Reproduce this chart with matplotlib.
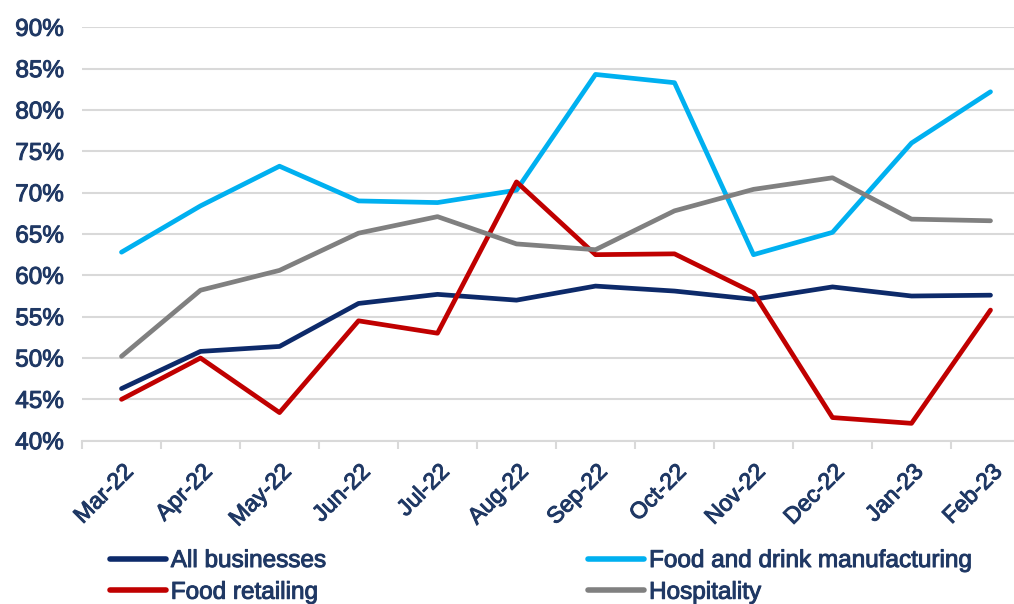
import matplotlib
matplotlib.use("Agg")
import matplotlib.pyplot as plt
import matplotlib.patheffects as pe
from matplotlib.ticker import FuncFormatter, MultipleLocator

plt.rcParams['font.family'] = ['Liberation Sans', 'DejaVu Sans']

months = ["Mar-22", "Apr-22", "May-22", "Jun-22", "Jul-22", "Aug-22",
          "Sep-22", "Oct-22", "Nov-22", "Dec-22", "Jan-23", "Feb-23"]
all_businesses = [46.3, 50.8, 51.4, 56.6, 57.7, 57.0, 58.7, 58.1, 57.1, 58.6, 57.5, 57.6]
food_drink_mfg = [62.8, 68.4, 73.2, 69.0, 68.8, 70.3, 84.3, 83.3, 62.5, 65.2, 76.0, 82.2]
food_retailing = [45.0, 50.0, 43.4, 54.5, 53.0, 71.3, 62.5, 62.6, 57.9, 42.8, 42.1, 55.8]
hospitality = [50.2, 58.2, 60.6, 65.1, 67.1, 63.8, 63.1, 67.8, 70.4, 71.8, 66.8, 66.6]
yticks = [40, 45, 50, 55, 60, 65, 70, 75, 80, 85, 90]

TEXT = '#1F3864'
GRID = '#D9D9D9'
FS = 17.5
STROKE = [pe.withStroke(linewidth=0.7, foreground=TEXT)]

fig = plt.figure(figsize=(10.14, 6.04), dpi=100)
W, H = 1014, 604
left, right, top, bottom = 82, 1030, 27.3, 440.7
ax = fig.add_axes([left / W, (H - bottom) / H, (right - left) / W, (bottom - top) / H])

x = list(range(len(months)))
LW = 3.4
l1, = ax.plot(x, all_businesses, color='#0D2A6A', lw=LW, label='All businesses', solid_capstyle='round', solid_joinstyle='round', zorder=3)
l2, = ax.plot(x, food_drink_mfg, color='#00B0F0', lw=LW, label='Food and drink manufacturing', solid_capstyle='round', solid_joinstyle='round', zorder=3)
l3, = ax.plot(x, food_retailing, color='#C00000', lw=LW, label='Food retailing', solid_capstyle='round', solid_joinstyle='round', zorder=3)
l4, = ax.plot(x, hospitality, color='#808080', lw=LW, label='Hospitality', solid_capstyle='round', solid_joinstyle='round', zorder=3)

ax.set_xlim(-0.5, len(months) - 0.5)
ax.set_ylim(40, 90)
ax.set_yticks(yticks)
ax.yaxis.set_major_formatter(FuncFormatter(lambda v, p: f"{v:.0f}%"))
ax.grid(axis='y', color=GRID, lw=1.5, zorder=0)
ax.set_axisbelow(True)

ax.set_xticks(x)
ax.set_xticklabels(months, rotation=45, ha='right', rotation_mode='anchor')
ax.xaxis.set_minor_locator(MultipleLocator(1, offset=0.5))
ax.tick_params(axis='x', which='major', length=0, pad=14, labelsize=FS * 0.95, labelcolor=TEXT)
ax.tick_params(axis='x', which='minor', length=6, width=1.5, color=GRID)
ax.tick_params(axis='y', length=0, pad=13, labelsize=FS, labelcolor=TEXT)
for t in ax.get_xticklabels() + ax.get_yticklabels():
    t.set_path_effects(STROKE)

for s in ['top', 'right', 'left']:
    ax.spines[s].set_visible(False)
ax.spines['bottom'].set_color(GRID)
ax.spines['bottom'].set_linewidth(1.5)

leg = fig.legend(handles=[l1, l3, l2, l4], loc='upper left',
                 bbox_to_anchor=(110 / W, 1 - 550 / H), ncol=2, frameon=False,
                 fontsize=FS, handlelength=2.3, handletextpad=0.2,
                 columnspacing=10.8, labelspacing=0.4, borderpad=0, borderaxespad=0)
for t in leg.get_texts():
    t.set_color(TEXT)
    t.set_path_effects(STROKE)
for h in leg.legend_handles:
    h.set_linewidth(4)

fig.savefig('out.png', dpi=100)
